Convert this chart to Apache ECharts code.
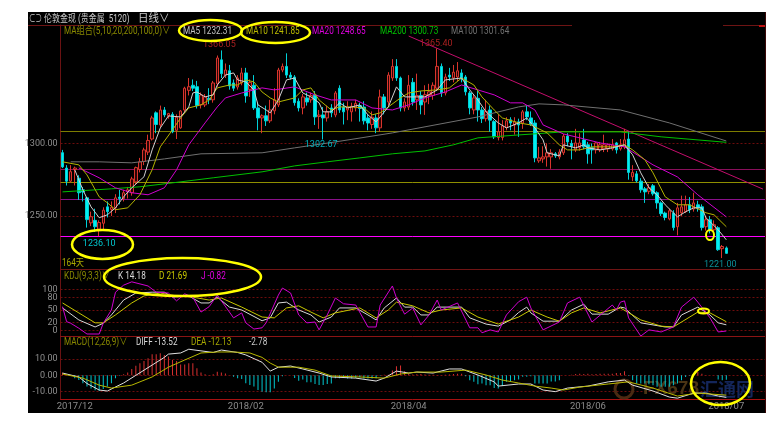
<!DOCTYPE html>
<html><head><meta charset="utf-8">
<style>html,body{margin:0;padding:0;background:#fff}#c{width:778px;height:431px}</style>
<script src="https://cdn.jsdelivr.net/npm/echarts@6/dist/echarts.min.js"></script>
</head><body><div id="c"></div>
<script>
// open, close, low, high for each of the 164 daily candles
const candles = [
[1293.6,1283.8,1283,1295.5],[1283,1274,1271,1285],[1274,1280.5,1273,1285],[1282,1283,1271,1284],[1276,1266,1261,1278],
[1268,1266.5,1260,1270],[1262.5,1247.5,1242,1263],[1245.3,1249.5,1243,1253],[1247,1242.6,1239,1255],[1241,1245.5,1236.1,1247],
[1245,1254,1241,1256],[1256.3,1253,1249,1260],[1254.5,1256,1250,1260],[1255.7,1262.5,1252,1265],[1263,1262,1258,1268],
[1262,1266,1260,1268],[1266.5,1268,1262,1270],[1266,1275.5,1264,1277],[1273.5,1283.3,1272,1284],[1282,1287.3,1280,1290],
[1287.5,1295.5,1285,1297],[1294,1302,1292,1306],[1303,1317.5,1302,1319],[1321,1313,1307,1322],[1312.7,1323,1311,1326],
[1323,1319.6,1318,1325],[1319,1320.5,1317,1321],[1320,1308,1307,1321.5],[1309,1318,1303,1320],[1310.7,1322.3,1310,1323],
[1323,1338,1321,1339],[1336.5,1339,1333,1345],[1340,1338,1336,1344],[1339,1326,1324,1343],[1326.5,1333.3,1324,1335],
[1326.5,1332,1325,1334],[1331,1330,1327,1338],[1330,1341.6,1328,1343],[1341,1358.8,1339,1360.5],[1357.5,1348,1345,1364],
[1347,1350.5,1345,1355],[1350,1339.5,1337,1354],[1341.6,1338,1336,1344],[1338.8,1345,1337,1347],[1341.6,1348.5,1340,1352],
[1348.5,1332.7,1328,1352],[1337,1342,1332,1344],[1340,1324.4,1323,1347],[1324.4,1317.5,1309,1328],[1317.5,1319,1307,1320],
[1319,1315.5,1312,1326],[1315.5,1323,1314,1330],[1322.4,1330,1320,1338],[1326.5,1350.5,1325,1352],[1350.5,1353,1349,1355],
[1353,1347,1345,1362],[1347,1345.5,1344,1349],[1345.7,1328,1326,1347],[1329,1324.4,1322,1331],[1324.4,1332,1320,1334],
[1331.3,1328.5,1326,1335],[1330,1333,1328,1335],[1333.3,1318.2,1312.7,1336],[1318.5,1319.5,1310,1323],[1319.6,1317.5,1302.67,1325],
[1317.5,1321.7,1315,1326],[1324.4,1321,1318,1327],[1319.6,1334.7,1318,1336],[1338,1323,1321,1340],[1325,1321.7,1313,1328],
[1323,1325,1316,1329],[1321.7,1325.5,1315,1328],[1324.4,1327.5,1322,1330],[1326,1324,1315,1328],[1325,1315.5,1313,1329],
[1317.5,1314,1309,1320],[1313,1318,1310,1322],[1317.5,1310.7,1307,1320],[1310.7,1332,1308,1337],[1332,1324.4,1320,1334],
[1328.5,1347,1326,1349],[1345,1353,1343,1358],[1353,1345,1343,1358],[1345,1324.4,1322,1346],[1324.4,1328.5,1322,1331],
[1325,1340,1323,1347],[1342,1328.5,1326,1345],[1330,1333,1323,1348],[1333,1326.5,1320,1336],[1328.5,1333.5,1319.6,1340],
[1333,1335.5,1327,1341],[1333,1340,1330,1342],[1338,1353,1336,1365.4],[1353,1334.7,1332,1355],[1334.7,1345.7,1333,1348],
[1347,1345.7,1343,1352],[1345,1349,1342,1354],[1345.7,1350,1343,1356],[1348.5,1345,1342,1351],[1345.7,1335.5,1333,1347],
[1334.7,1324.4,1320,1336],[1323,1331.3,1320,1334],[1331,1323,1315,1336],[1323,1317,1314,1325],[1317,1322,1315,1330],
[1323,1316,1308,1326],[1315,1304.5,1303,1316],[1304,1308,1302,1320],[1304,1312,1302,1316],[1311,1315.5,1309,1318],
[1316.2,1314,1309,1318],[1312.7,1314.8,1306,1318],[1314.8,1312.7,1304.5,1317],[1314,1321.7,1310,1323],[1321.7,1318.2,1316,1326],
[1317.5,1313.4,1312,1322],[1314,1290,1287,1316],[1288,1290,1286.6,1297.6],[1289.3,1290.7,1286.6,1298],[1290.7,1293.5,1284,1300],
[1290.7,1293.5,1282.5,1296],[1292.8,1291.4,1290,1294],[1290.7,1294,1289,1296],[1293.5,1305,1292,1306.5],[1305,1301,1298,1307],
[1300,1298,1289,1302.4],[1295.5,1300.3,1294,1310],[1297,1300.3,1295,1307],[1302.4,1297.6,1296,1310],[1299,1292.8,1286,1301],
[1297,1295.5,1286,1300],[1295.5,1300.3,1293,1301],[1295.5,1299,1294,1301],[1296.2,1299,1294,1306],[1296.2,1299,1294,1300],
[1296.2,1299,1295,1303],[1300.3,1295.5,1293,1301],[1296.2,1299,1295,1303],[1297.6,1302.4,1296,1310],[1303,1280,1275,1308],
[1277,1280,1274,1285],[1279,1274.2,1273,1281],[1274,1268,1266,1276],[1268.7,1266.6,1259,1270],[1267,1269.5,1265,1272],
[1270.8,1265.3,1264,1272],[1266,1259,1255,1267],[1259,1251.6,1250,1260],[1252,1249,1247,1253],[1248,1253.6,1247,1255],
[1252,1242,1240,1254],[1242.6,1255.6,1236.7,1259],[1252.2,1256.3,1250,1264],[1253,1257.7,1252,1264],[1257.7,1254.3,1252,1263],
[1254.8,1259,1253,1266],[1257.7,1255.6,1253,1260.5],[1256.3,1242,1240,1258],[1242.6,1247.4,1240,1250],[1247.4,1240.5,1238,1250],
[1240.5,1244,1238,1247],[1241.9,1226.8,1226,1243],[1227.5,1229,1221,1230],[1228,1224.3,1224,1229]
];
// moving averages read at [day index, price]
const ma5 = [[3,1281.8],[5,1268],[7,1256.3],[9,1248.8],[11,1250.8],[13,1255.6],[15,1263.2],[17,1269.4],[20,1277],[22,1295.5],[24,1310.6],[26,1318.9],[29,1318.2],[31,1325.1],[32,1334.7],[33,1335.4],[35,1332],[37,1333.4],[38,1340.2],[40,1347.1],[42,1348.5],[43,1343.7],[45,1342.3],[47,1336.8],[48,1326.5],[50,1323],[51,1321],[53,1329.9],[55,1343.7],[57,1345],[59,1334.7],[61,1332],[63,1327.9],[64,1321.7],[66,1321.7],[68,1327.9],[70,1324.4],[73,1326.5],[75,1319.6],[77,1314.8],[80,1325.1],[82,1338.9],[84,1332],[87,1332],[89,1332],[92,1336.8],[94,1343.7],[98,1345],[100,1336.8],[102,1329.9],[104,1321.7],[107,1314.1],[109,1310.6],[112,1314.1],[114,1317.5],[116,1310.6],[118,1302.4],[119,1293.5],[122,1291.4],[123,1299],[126,1296.9],[128,1299],[129,1296.9],[132,1295.5],[135,1296.9],[138,1299],[140,1292.1],[142,1279.7],[144,1269.4],[146,1264.6],[148,1257.7],[151,1249.4],[153,1252.9],[155,1255.6],[157,1255.6],[158,1248.8],[161,1240.5],[163,1233.6]];
const ma10 = [[0,1287.3],[4,1285.2],[6,1278.3],[9,1263.2],[11,1259.1],[13,1254.3],[16,1255.6],[19,1264.6],[22,1281.8],[24,1297.6],[27,1309.3],[29,1317.5],[31,1324.4],[34,1326.5],[36,1329.9],[38,1338.2],[41,1340.2],[43,1340.2],[45,1343.7],[47,1342.3],[49,1335.4],[51,1331.3],[53,1328.5],[57,1331.3],[59,1336.8],[61,1338.2],[63,1329.9],[66,1323],[68,1325.1],[71,1325.1],[74,1324.4],[76,1319.6],[78,1321],[80,1325.1],[83,1331.3],[85,1334.7],[88,1336.1],[92,1336.8],[95,1338.2],[98,1345],[101,1340.2],[103,1332],[106,1323],[108,1317.5],[112,1314.1],[115,1312.7],[119,1307.2],[122,1299],[124,1295.5],[127,1295.5],[130,1297.6],[135,1297.6],[138,1299],[140,1295.5],[143,1288.7],[145,1279.7],[148,1263.2],[151,1257.7],[154,1257.7],[158,1252.2],[160,1250.8],[163,1242.6]];
const ma20 = [[4,1283.1],[9,1276.3],[13,1269.4],[17,1266],[21,1264.6],[25,1269.4],[28,1281.8],[31,1299],[35,1314.1],[38,1325.1],[40,1331.3],[44,1334.7],[49,1338.2],[52,1336.8],[57,1338.9],[62,1333.4],[66,1329.9],[72,1329.9],[76,1324.4],[81,1323],[85,1326.5],[89,1331.3],[94,1335.4],[98,1340.2],[102,1336.8],[106,1333.4],[110,1327.9],[113,1327.9],[116,1323],[118,1312.7],[123,1306.5],[127,1303.8],[132,1300.3],[138,1297.6],[145,1285.2],[151,1276.9],[156,1264.6],[163,1249.4]];
const ma200 = [[0,1266.6],[12,1268.7],[19,1270.1],[27,1272.8],[37,1276.3],[49,1280.4],[57,1284.5],[65,1287.3],[73,1290],[81,1292.8],[89,1294.8],[96,1299],[102,1303.8],[112,1305.8],[123,1307.9],[137,1307.9],[147,1304.5],[163,1300.73]];
const ma100 = [[2,1287.3],[9,1287.3],[17,1286.6],[25,1289.3],[34,1292.8],[49,1293.5],[57,1296.9],[67,1301],[81,1307.2],[102,1318.2],[112,1325.1],[117,1327.2],[123,1326.5],[137,1323],[149,1314.1],[163,1301.64]];
const kdjK = [[0,55],[4,26],[8,9],[10,18],[12,38],[15,74],[18,91],[22,93],[25,93],[27,81],[31,84],[34,67],[36,67],[38,81],[41,57],[44,50],[49,24],[51,31],[53,67],[55,69],[58,50],[61,38],[63,21],[66,33],[68,55],[72,55],[75,38],[77,26],[79,55],[82,79],[84,57],[86,57],[88,38],[90,38],[92,57],[98,57],[100,31],[104,16],[107,11],[110,26],[112,44],[114,57],[115,43],[118,23],[122,23],[125,50],[128,64],[130,40],[134,40],[137,57],[138,55],[142,19],[145,14],[148,9],[150,9],[152,38],[156,57],[159,38],[161,19],[163,14.18]];
const kdjD = [[0,67],[4,43],[8,19],[10,19],[13,38],[17,67],[20,84],[24,91],[28,84],[32,81],[36,74],[39,79],[44,57],[49,33],[52,31],[55,55],[58,60],[61,45],[64,31],[67,43],[73,55],[77,31],[80,50],[82,69],[86,60],[90,43],[93,50],[98,55],[102,33],[107,16],[112,33],[115,50],[119,33],[122,23],[125,43],[128,55],[132,43],[137,55],[142,26],[147,11],[150,9],[156,45],[159,43],[163,21.69]];
const kdjJ = [[0,58],[1,22],[2,18],[4,6],[6,-8],[9,-8],[10,18],[12,50],[13,93],[15,110],[17,118],[21,108],[23,93],[26,91],[28,72],[30,89],[32,81],[34,45],[36,58],[38,86],[42,31],[44,43],[45,19],[47,4],[49,7],[50,19],[53,86],[54,103],[56,91],[58,38],[60,19],[62,21],[63,2],[65,38],[67,79],[69,65],[72,62],[75,9],[77,9],[78,62],[81,108],[82,79],[84,40],[86,55],[88,14],[90,38],[92,74],[93,50],[97,67],[100,7],[102,7],[103,-5],[105,2],[107,-3],[109,38],[112,70],[114,81],[115,55],[118,2],[122,21],[124,67],[127,81],[130,21],[135,62],[136,50],[137,69],[138,72],[139,31],[142,-13],[144,2],[147,-3],[150,9],[152,57],[155,81],[156,69],[159,31],[161,-3],[163,-0.82]];
const macdDiff = [[0,1.4],[4,-1],[6,-5],[9,-9],[11,-9.6],[15,-4.7],[18,0],[22,6.3],[25,11],[26,13],[29,13.7],[31,16],[34,15],[37,14],[39,15.5],[43,14],[45,12.5],[49,8],[51,2.6],[53,5],[56,5.7],[59,3.9],[63,1.4],[66,-1],[72,-1.7],[77,-3.5],[79,-1.7],[82,2.6],[85,1.4],[87,2],[91,1.4],[95,3.9],[98,3.9],[102,0.2],[106,-4],[107,-6.6],[112,-5.3],[115,-5.3],[118,-9],[121,-10],[124,-7.8],[129,-6.6],[134,-4],[138,-2.9],[140,-6],[145,-9.6],[149,-13.3],[151,-14],[155,-10.9],[158,-10.9],[161,-12.7],[163,-13.52]];
const macdDea = [[0,0.8],[5,-1.7],[9,-6],[12,-7.8],[17,-6],[22,-1],[26,5],[30,9.4],[34,13.7],[38,14.3],[42,14.3],[46,13.7],[49,11],[51,7.5],[53,5],[58,5],[62,3.2],[66,-0.4],[73,-1],[79,-1.7],[83,0.8],[87,2],[93,2],[99,3.2],[104,0.2],[108,-2.9],[112,-4.7],[116,-6.6],[120,-7.8],[123,-9],[127,-7.2],[134,-5.3],[139,-4],[145,-7.8],[151,-12.7],[156,-10.9],[163,-12.13]];
const macdHist = [1.6,0.3,0.2,-1.8,-2.9,-4.9,-6.9,-8,-9.2,-9.6,
-8.4,-6.9,-4.9,-1.8,-0.2,0.6,1.8,3.9,5.9,7.4,
8.8,10.4,12.9,12.9,13.5,12.5,11.5,9.4,8.8,6.7,
6.7,7.4,7.4,4.3,1.8,0.6,0.2,0.6,2.2,1.8,
1.2,0.1,-0.8,-1.8,-2.2,-4.9,-5.9,-6.9,-9,-10,
-10.4,-10.4,-8,-3.9,-0.5,0,0,-1.6,-3.3,-2.5,
-4.3,-4.3,-5.3,-5.9,-5.9,-5.3,-5,-1.8,-1.8,-1.6,
-2,-2,-1.6,-1.2,-2,-2,-2,-1.8,-0.3,0.3,
0.3,3,5.5,6,2.5,1,0.5,0.6,0.8,0.5,
0.4,0.3,0.2,0.2,0.3,0.5,0.8,1,1,-0.5,
-3,-4,-5.5,-5,-6,-6,-7.7,-8,-6.5,-4,
-3.5,-3,-2.5,-0.8,-0.8,-0.5,-5,-5,-5,-5,
-3.8,-3.8,-3,0,0,0.3,0.8,1,0.8,1,
0.6,0.8,1,1,1,1,1.5,1.5,2.5,-0.2,
-3,-5,-5,-5,-5.5,-6,-7,-7,-7,-7,
-6,-5,-3,-1,-0.2,0.2,2,1,0.2,0,
0,-2.5,-3,-2.78];
const levelLines = [1308.4,1282.2,1273.2,1261.5,1236];
const levelColors = ['#7d7d00','#8a0f5c','#8f8f00','#8a108a','#ff00ff'];
const trendLine = [[85,1373.9],[172,1268.5]];
const priceTicks = [1250,1300];
const kdjTicksA = [0,50,100];
const kdjTicksB = [20,80];
const macdTicks = [-10,0,10];
const dateLabels = {3:'2017/12',45:'2018/02',85:'2018/04',129:'2018/06',163:'2018/07'};
const highLow = [
  {i:39,p:1364,text:'1366.05',color:'#a82020',off:[-2,-1]},
  {i:92,p:1365.4,text:'1365.40',color:'#a82020',off:[-1,0]},
  {i:9,p:1236.1,text:'1236.10',color:'#00c8d0',off:[0,3]},
  {i:64,p:1302.67,text:'1302.67',color:'#00b0bc',off:[-2,1]},
  {i:162,p:1221,text:'1221.00',color:'#0a8f98',off:[-2,2]}
];
const categories = Array.from({length:173},(_,i)=>String(i));
const FN = 'Roboto,sans-serif';
const CJK = 'Roboto,"Noto Sans CJK SC",sans-serif';
const green='#8a8a00';
function txt(x,y,text,fill,size,sx){return {type:'text',z:50,x:x,y:y,scaleX:sx||0.82,style:{text:text,fill:fill,font:(size||10)+'px '+CJK,textVerticalAlign:'middle'}};}
function ell(cx,cy,rx,ry,w,rot){return {type:'ellipse',z:60,x:cx,y:cy,rotation:rot||0,shape:{cx:0,cy:0,rx:rx,ry:ry},style:{fill:null,stroke:'#ffff00',lineWidth:w}};}
function hl(x1,x2,y,c){return {type:'line',z:5,shape:{x1:x1,y1:y,x2:x2,y2:y},style:{stroke:c,lineWidth:1}};}
function axisY(idx,min,max,ticks,fmt){return {gridIndex:idx,type:'value',min:min,max:max,scale:true,position:'left',
  axisLine:{show:true,onZero:false,lineStyle:{color:'#6a1212'}},
  axisTick:{show:false,customValues:ticks},
  axisLabel:{customValues:ticks,color:'#8f8f8f',fontFamily:FN,fontSize:9,margin:3,hideOverlap:false,formatter:fmt},
  splitLine:{show:true,lineStyle:{color:'#6d0c0c',type:[2,2],width:1}}};}
function axisX(idx,color,labels){return {gridIndex:idx,type:'category',data:categories,boundaryGap:true,
  axisLine:{show:true,onZero:false,lineStyle:{color:color}},axisTick:{show:false},splitLine:{show:false},
  axisLabel:labels?{show:true,interval:0,color:'#8a8a8a',fontFamily:FN,fontSize:9.5,margin:3,hideOverlap:false,
     formatter:(v,i)=>dateLabels[i]||''}:{show:false}};}
function line(name,data,color,xi){return {name:name,type:'line',xAxisIndex:xi,yAxisIndex:xi,data:data,showSymbol:false,symbol:'none',
  lineStyle:{color:color,width:1},smooth:false,silent:true,z:4};}

const option={
 animation:false,backgroundColor:'#fff',
 grid:[{left:60.5,right:13,top:25,height:244},{left:60.5,right:13,top:269,height:67},{left:60.5,right:13,top:336,height:63}],
 xAxis:[axisX(0,'#701414',false),axisX(1,'#8a1414',false),axisX(2,'#a81010',true)],
 yAxis:[axisY(0,1213.5,1381.5,priceTicks,v=>v.toFixed(2)),axisY(1,-12.8,149,kdjTicksA,v=>String(v)),axisY(2,-14.5,24.1,macdTicks,v=>v.toFixed(2)),
        axisY(1,-12.8,149,kdjTicksB,v=>String(v))],
 series:[
  {type:'candlestick',xAxisIndex:0,yAxisIndex:0,data:candles,barWidth:3,silent:true,z:3,
   itemStyle:{color:'#2a0505',color0:'#00f0f0',borderColor:'#d8342c',borderColor0:'#00d0d8',borderWidth:1},
   markLine:{silent:true,symbol:'none',animation:false,label:{show:false},z:2,
     data:levelLines.map((v,i)=>({yAxis:v,lineStyle:{color:levelColors[i],width:1,type:'solid'}})).concat([
       [{coord:[String(trendLine[0][0]),trendLine[0][1]],lineStyle:{color:'#c40e6c',width:1,type:'solid'}},{coord:[String(trendLine[1][0]),trendLine[1][1]]}]
     ])},
   markPoint:{silent:true,symbol:'circle',symbolSize:0,z:8,
     data:highLow.map(h=>({coord:[String(h.i),h.p],value:h.text,
       label:{show:true,formatter:h.text,color:h.color,fontFamily:FN,fontSize:9,position:h.off[1]<=0&&h.p>1350?'top':'bottom',distance:0,offset:h.off}}))}
  },
  line('MA100',ma100,'#707070',0),
  line('MA200',ma200,'#00c000',0),
  line('MA20',ma20,'#d000d0',0),
  line('MA10',ma10,'#b4b400',0),
  line('MA5',ma5,'#d0d0d0',0),
  line('K',kdjK,'#d8d8d8',1),
  line('D',kdjD,'#c8c800',1),
  line('J',kdjJ,'#d000d0',1),
  {type:'bar',xAxisIndex:2,yAxisIndex:2,data:macdHist,barWidth:1,silent:true,z:3,
   itemStyle:{color:p=>p.value>=0?'#d83030':'#00c8d0'}},
  line('DIFF',macdDiff,'#e0e0e0',2),
  line('DEA',macdDea,'#b8b800',2)
 ],
 graphic:{elements:[
  {type:'rect',z:-100,shape:{x:28,y:12,width:738,height:401},style:{fill:'#000'}},
  hl(28,572,25.5,'#6e1414'),hl(723,765,25.5,'#6e1414'),
  {type:'rect',z:5,shape:{x:759,y:25,width:6,height:2},style:{fill:'#c01010'}},
  {type:'line',z:5,shape:{x1:765.5,y1:12,x2:765.5,y2:413},style:{stroke:'#3a0808',lineWidth:1}},
  txt(29,19,'⊂⊃','#c8c8c8',10,0.65),
  txt(44,19,'伦敦金现 (贵金属  5120)','#c8c8c8',10,0.8),
  txt(138,19,'日线∨','#c8c8c8',11,0.95),
  txt(64,31,'MA组合(5,10,20,200,100,0)∨',green),
  txt(183,31,'MA5 1232.31','#c4c4c4'),
  txt(246,31,'MA10 1241.85','#bcbc00'),
  txt(312,31,'MA20 1248.65','#e000e0'),
  txt(380,31,'MA200 1300.73','#00c000'),
  txt(451,31,'MA100 1301.64','#707070'),
  txt(62,263,'164天','#a8a800'),
  txt(64,276,'KDJ(9,3,3)∨',green),
  txt(118,276,'K 14.18','#d8d8d8'),
  txt(159,276,'D 21.69','#c8c800'),
  txt(201,276,'J -0.82','#e000e0'),
  txt(64,342,'MACD(12,26,9)∨',green),
  txt(136,342,'DIFF -13.52','#d8d8d8'),
  txt(191,342,'DEA -12.13','#a8a800'),
  txt(249,342,'-2.78','#c8c8c8'),
  {type:'circle',z:1,shape:{cx:624,cy:389,r:9},style:{fill:null,stroke:'#4a2a12',lineWidth:3}},
  {type:'text',z:1,x:643,y:389,style:{text:'FX678',fill:'#4a3414',font:'bold 19px "Liberation Sans",sans-serif',textVerticalAlign:'middle'}},
  {type:'text',z:1,x:700,y:389,style:{text:'汇通网',fill:'#14265a',font:'bold 18px "Noto Sans CJK SC",sans-serif',textVerticalAlign:'middle'}},
  ell(210.5,30.5,31.5,10.5,2.5),
  ell(275.5,32.5,34.5,10.5,2.5),
  ell(102.5,244.5,30.5,14.5,2.5),
  ell(182.5,277,78.5,19,2.5),
  ell(710,235,4,5,2),
  ell(703.5,311,5.5,2.5,2),
  ell(720.5,383.5,29.5,21.5,2.5)
 ]}
};
const chart=echarts.init(document.getElementById('c'),null,{renderer:'canvas'});
chart.setOption(option);
</script></body></html>
